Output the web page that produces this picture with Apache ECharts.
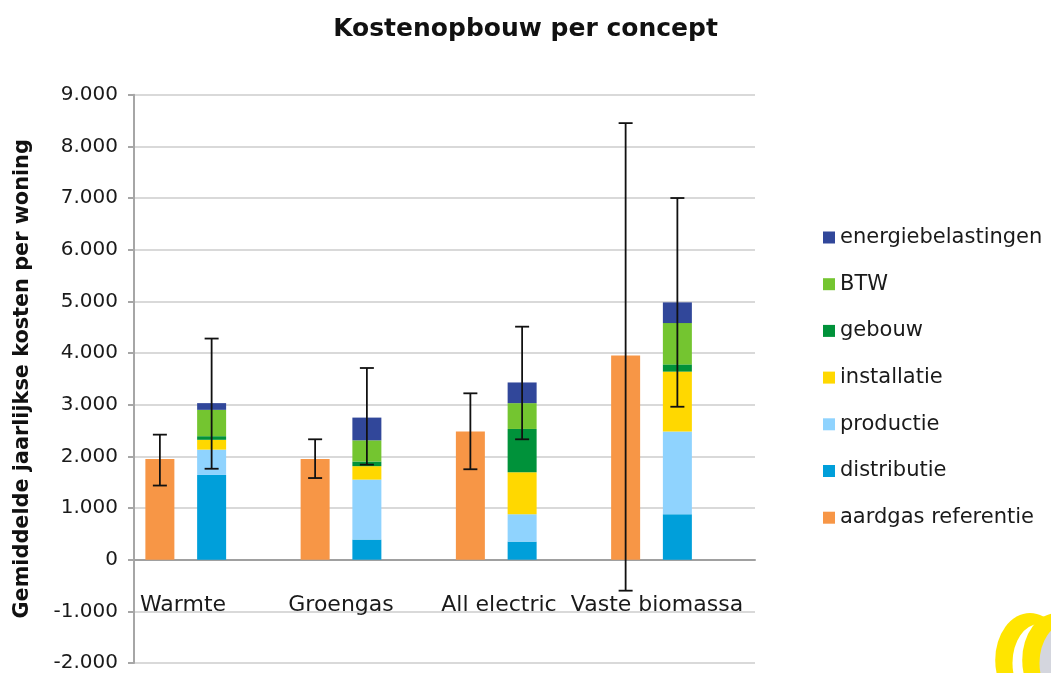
<!DOCTYPE html>
<html>
<head>
<meta charset="utf-8">
<script src="https://cdn.jsdelivr.net/npm/echarts@6/dist/echarts.min.js"></script>
<style>
html,body{margin:0;padding:0;background:#fff;}
#c{width:1051px;height:673px;}
</style>
</head>
<body>
<div id="c"></div>
<script>
// ---- data ----
const categories = ['Warmte', 'Groengas', 'All electric', 'Vaste biomassa'];
const aardgasReferentie = [1950, 1950, 2480, 3950];
const distributie = [1640, 390, 350, 880];
const productie = [490, 1160, 530, 1600];
const installatie = [190, 260, 810, 1160];
const gebouw = [70, 90, 840, 140];
const btw = [510, 410, 500, 800];
const energiebelastingen = [130, 440, 400, 400];
const refErrLow = [1435, 1580, 1750, -600];
const refErrHigh = [2420, 2330, 3220, 8450];
const conceptErrLow = [1760, 1840, 2330, 2960];
const conceptErrHigh = [4280, 3710, 4510, 7000];
const yTicks = { min: -2000, max: 9000, interval: 1000 };

// ---- slots: [ref, concept, gap] per category ----
const slots = categories.flatMap(c => [c + ' ref', c, c + ' -']);
function toSlots(arr, offset) {
  const out = slots.map(() => '-');
  arr.forEach((v, i) => { out[i * 3 + offset] = v; });
  return out;
}
const errData = [];
categories.forEach((c, i) => {
  errData.push([i * 3, refErrLow[i], refErrHigh[i]]);
  errData.push([i * 3 + 1, conceptErrLow[i], conceptErrHigh[i]]);
});

function fmt(v) {
  const s = Math.abs(v).toString().replace(/\B(?=(\d{3})+(?!\d))/g, '.');
  return (v < 0 ? '-' : '') + s;
}

const FONT = 'DejaVu Sans';
const colors = {
  'aardgas referentie': '#F79646',
  'distributie': '#009FDA',
  'productie': '#8FD3FE',
  'installatie': '#FFD800',
  'gebouw': '#00923A',
  'BTW': '#74C530',
  'energiebelastingen': '#31479A'
};
function barSeries(name, arr, offset) {
  return {
    name: name, type: 'bar', stack: 'all', xAxisIndex: 0, yAxisIndex: 0,
    data: toSlots(arr, offset), barWidth: 29,
    itemStyle: { color: colors[name] }, emphasis: { disabled: true }
  };
}

const chart = echarts.init(document.getElementById('c'), null, { renderer: 'canvas' });
chart.setOption({
  animation: false,
  textStyle: { fontFamily: FONT },
  title: {
    text: 'Kostenopbouw per concept', left: 'center', top: 12,
    textStyle: { fontFamily: FONT, fontSize: 25, fontWeight: 'bold', color: '#111' }
  },
  legend: {
    orient: 'vertical', left: 818, top: 222, itemGap: 25.7,
    icon: 'rect', itemWidth: 12, itemHeight: 12,
    data: ['energiebelastingen', 'BTW', 'gebouw', 'installatie', 'productie', 'distributie', 'aardgas referentie'],
    textStyle: { fontFamily: FONT, fontSize: 21, color: '#1a1a1a' },
    selectedMode: false
  },
  grid: [
    { left: 134, right: 296, top: 94.7, bottom: 9.7 },
    { left: 104, right: 315, top: 94.7, bottom: 113 }
  ],
  xAxis: [
    {
      type: 'category', gridIndex: 0, data: slots,
      axisLine: { onZero: true, lineStyle: { color: '#a0a0a0', width: 2 } },
      axisTick: { show: false }, axisLabel: { show: false }, splitLine: { show: false }
    },
    {
      type: 'category', gridIndex: 1, data: categories, position: 'bottom',
      axisLine: { show: false, onZero: false }, axisTick: { show: false },
      axisLabel: { interval: 0, margin: 34, fontFamily: FONT, fontSize: 22, color: '#1a1a1a' },
      splitLine: { show: false }
    }
  ],
  yAxis: [
    {
      type: 'value', gridIndex: 0, min: yTicks.min, max: yTicks.max, interval: yTicks.interval,
      name: 'Gemiddelde jaarlijkse kosten per woning', nameLocation: 'middle', nameGap: 101, nameRotate: 90,
      nameTextStyle: { fontFamily: FONT, fontSize: 20.8, fontWeight: 'bold', color: '#111' },
      axisLine: { show: true, lineStyle: { color: '#a6a6a6', width: 2 } },
      axisTick: { show: true, length: 6, lineStyle: { color: '#a6a6a6', width: 2 } },
      axisLabel: { formatter: fmt, margin: 16, fontFamily: FONT, fontSize: 20, color: '#1a1a1a' },
      splitLine: { lineStyle: { color: '#d9d9d9', width: 2 } }
    },
    {
      type: 'value', gridIndex: 1, min: yTicks.min, max: yTicks.max, interval: yTicks.interval,
      show: false
    }
  ],
  series: [
    barSeries('aardgas referentie', aardgasReferentie, 0),
    barSeries('distributie', distributie, 1),
    barSeries('productie', productie, 1),
    barSeries('installatie', installatie, 1),
    barSeries('gebouw', gebouw, 1),
    barSeries('BTW', btw, 1),
    barSeries('energiebelastingen', energiebelastingen, 1),
    {
      type: 'custom', name: 'error', xAxisIndex: 0, yAxisIndex: 0, z: 10,
      data: errData, encode: { x: 0, y: [1, 2] }, silent: true,
      renderItem: function (params, api) {
        const lo = api.coord([api.value(0), api.value(1)]);
        const hi = api.coord([api.value(0), api.value(2)]);
        const w = 7;
        const st = { stroke: '#111', lineWidth: 1.8 };
        return {
          type: 'group', children: [
            { type: 'line', shape: { x1: lo[0], y1: lo[1], x2: hi[0], y2: hi[1] }, style: st },
            { type: 'line', shape: { x1: lo[0] - w, y1: lo[1], x2: lo[0] + w, y2: lo[1] }, style: st },
            { type: 'line', shape: { x1: hi[0] - w, y1: hi[1], x2: hi[0] + w, y2: hi[1] }, style: st }
          ]
        };
      }
    }
  ],
  graphic: [
    { type: 'circle', x: 1030, y: 660, scaleX: 0.74, shape: { cx: 0, cy: 0, r: 47 }, style: { fill: '#FFE500' }, silent: true },
    { type: 'circle', x: 1039, y: 663, scaleX: 0.68, shape: { cx: 0, cy: 0, r: 39 }, style: { fill: '#ffffff' }, silent: true },
    { type: 'circle', x: 1057, y: 660, scaleX: 0.74, shape: { cx: 0, cy: 0, r: 47 }, style: { fill: '#FFE500' }, silent: true },
    { type: 'circle', x: 1066, y: 663, scaleX: 0.68, shape: { cx: 0, cy: 0, r: 39 }, style: { fill: '#d4d6de' }, silent: true }
  ]
});
</script>
</body>
</html>
